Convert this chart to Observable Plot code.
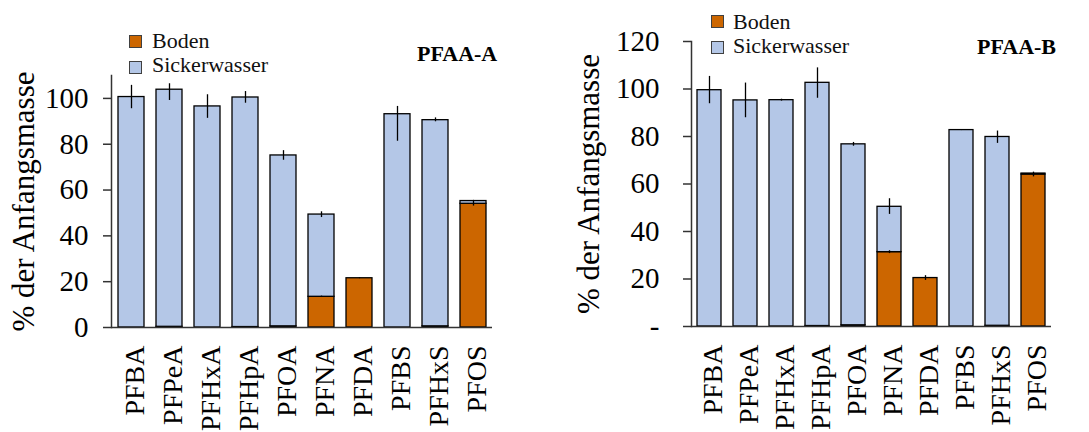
<!DOCTYPE html>
<html>
<head>
<meta charset="utf-8">
<script src="https://cdn.jsdelivr.net/npm/d3@7"></script>
<script src="https://cdn.jsdelivr.net/npm/@observablehq/plot@0.6"></script>
<style>
  html, body { margin: 0; padding: 0; background: white; }
  #wrap { position: relative; width: 1089px; height: 432px; overflow: hidden; font-family: "Liberation Serif", "Times New Roman", serif; }
  .panel { position: absolute; top: 0; }
  #wrap svg g[aria-label="y-axis label"] text { font-size: 31px; }
  .sw { position: absolute; width: 11px; height: 11px; border: 1px solid #404040; }
  .lt { position: absolute; font-size: 22px; line-height: 22px; white-space: nowrap; color: #111; }
  .tt { position: absolute; font-size: 22px; line-height: 22px; font-weight: bold; white-space: nowrap; color: #000; }
</style>
</head>
<body>
<div id="wrap"></div>
<script>
// ---- data ----
const compounds = ["PFBA","PFPeA","PFHxA","PFHpA","PFOA","PFNA","PFDA","PFBS","PFHxS","PFOS"];
const components = ["Boden","Sickerwasser"];
const componentColors = ["#CC6600","#B4C7E7"];

// PFAA-A
const bodenA   = [0, 0.3, 0, 0.2, 0.5, 13.4, 21.5, 0, 0.5, 54.0];
const sickerA  = [100.6, 103.5, 96.5, 100.2, 74.6, 35.9, 0, 93.1, 90.0, 1.2];
const errUpA   = [5.1, 2.6, 5.1, 2.6, 2.1, 1.2, 0.2, 3.4, 1.0, 0.3];
const errDownA = [5.1, 4.7, 5.2, 2.5, 2.1, 1.3, 0.2, 11.8, 0.7, 2.2];
const bodenErrA = [0, 0, 0, 0, 0, 0.3, 0, 0, 0, 0];
const ticksA = [0, 20, 40, 60, 80, 100];

// PFAA-B
const bodenB   = [0, 0, 0, 0.2, 0.5, 31.3, 20.4, 0, 0.3, 64.0];
const sickerB  = [99.5, 95.2, 95.3, 102.4, 76.2, 19.1, 0, 82.7, 79.5, 0.4];
const errUpB   = [5.8, 7.3, 0.4, 6.3, 0.8, 3.4, 1.0, 0.2, 2.5, 0.6];
const errDownB = [5.7, 7.3, 0.4, 6.5, 0.8, 3.2, 1.0, 0.2, 2.7, 1.4];
const bodenErrB = [0, 0, 0, 0, 0, 0.6, 0, 0, 0, 0];
const ticksB = [0, 20, 40, 60, 80, 100, 120];

const yLabel = "% der Anfangsmasse";

function panel(cfg) {
  const bars = [];
  const errs = [];
  compounds.forEach((c, i) => {
    const b = cfg.boden[i], s = cfg.sicker[i], t = b + s;
    bars.push({c, comp: "Boden", y1: 0, y2: b});
    bars.push({c, comp: "Sickerwasser", y1: b, y2: t});
    errs.push({c, y1: t - cfg.errDown[i], y2: t + cfg.errUp[i]});
    if (cfg.bodenErr[i] > 0) errs.push({c, y1: b - cfg.bodenErr[i], y2: b + cfg.bodenErr[i]});
  });
  return Plot.plot({
    width: 545,
    height: 432,
    marginLeft: cfg.ml, marginRight: cfg.mr, marginTop: cfg.mt, marginBottom: cfg.mb,
    style: {fontFamily: "Liberation Serif", fontSize: "28px", color: "black", background: "transparent", overflow: "visible"},
    x: {domain: compounds, paddingInner: 0.32, paddingOuter: 0.16, label: null},
    y: {domain: [0, cfg.yMax], label: null},
    color: {domain: components, range: componentColors},
    marks: [
      Plot.barY(bars, {x: "c", y1: "y1", y2: "y2", fill: "comp", stroke: "black", strokeWidth: 1.3}),
      Plot.ruleX(errs, {x: "c", y1: "y1", y2: "y2", stroke: "black", strokeWidth: 1.3}),
      Plot.frame({anchor: "left", stroke: "#333", strokeWidth: 1.5}),
      Plot.ruleY([0], {stroke: "#333", strokeWidth: 1.5}),
      // tick marks only
      Plot.axisY({ticks: cfg.ticks, tickSize: 8, tickFormat: () => "", stroke: "#333", strokeWidth: 1.5, label: null}),
      // tick labels + axis title
      Plot.axisY({ticks: cfg.ticks, tickFormat: cfg.fmt, tickSize: 0, tickPadding: 8 + cfg.tp, fontSize: 29,
                  label: yLabel, labelAnchor: "center", labelOffset: cfg.lo, labelArrow: "none"}),
      Plot.axisX({tickRotate: -90, tickSize: 0, tickPadding: 18, dx: 4, label: null, fontSize: 28})
    ]
  });
}

const wrap = document.getElementById("wrap");

const pA = panel({boden: bodenA, sicker: sickerA, errUp: errUpA, errDown: errDownA, bodenErr: bodenErrA,
  yMax: 110, ticks: ticksA, fmt: d => String(d), ml: 111, mr: 53, mt: 75, mb: 105, tp: 15, lo: 100});
pA.classList.add("panel"); pA.style.left = "0px";
wrap.appendChild(pA);

const pB = panel({boden: bodenB, sicker: sickerB, errUp: errUpB, errDown: errDownB, bodenErr: bodenErrB,
  yMax: 120, ticks: ticksB, fmt: d => d === 0 ? "-" : String(d), ml: 147, mr: 38, mt: 41, mb: 106, tp: 24, lo: 115});
pB.classList.add("panel"); pB.style.left = "544px";
wrap.appendChild(pB);

// legends and panel titles
function addLegend(x, ys, textX, baselines) {
  components.forEach((comp, i) => {
    const sw = document.createElement("div");
    sw.className = "sw";
    sw.style.left = x + "px"; sw.style.top = ys[i] + "px";
    sw.style.background = componentColors[i];
    wrap.appendChild(sw);
    const t = document.createElement("div");
    t.className = "lt";
    t.textContent = comp;
    t.style.left = textX + "px"; t.style.top = (baselines[i] - 18.4) + "px";
    wrap.appendChild(t);
  });
}
function addTitle(text, x, baseline) {
  const t = document.createElement("div");
  t.className = "tt";
  t.textContent = text;
  t.style.left = x + "px"; t.style.top = (baseline - 18.4) + "px";
  wrap.appendChild(t);
}
addLegend(129, [35, 61], 152, [48, 72.7]);
addLegend(711, [15, 41], 733, [29.3, 53.3]);
addTitle("PFAA-A", 417, 61);
addTitle("PFAA-B", 977, 54.3);
</script>
</body>
</html>
